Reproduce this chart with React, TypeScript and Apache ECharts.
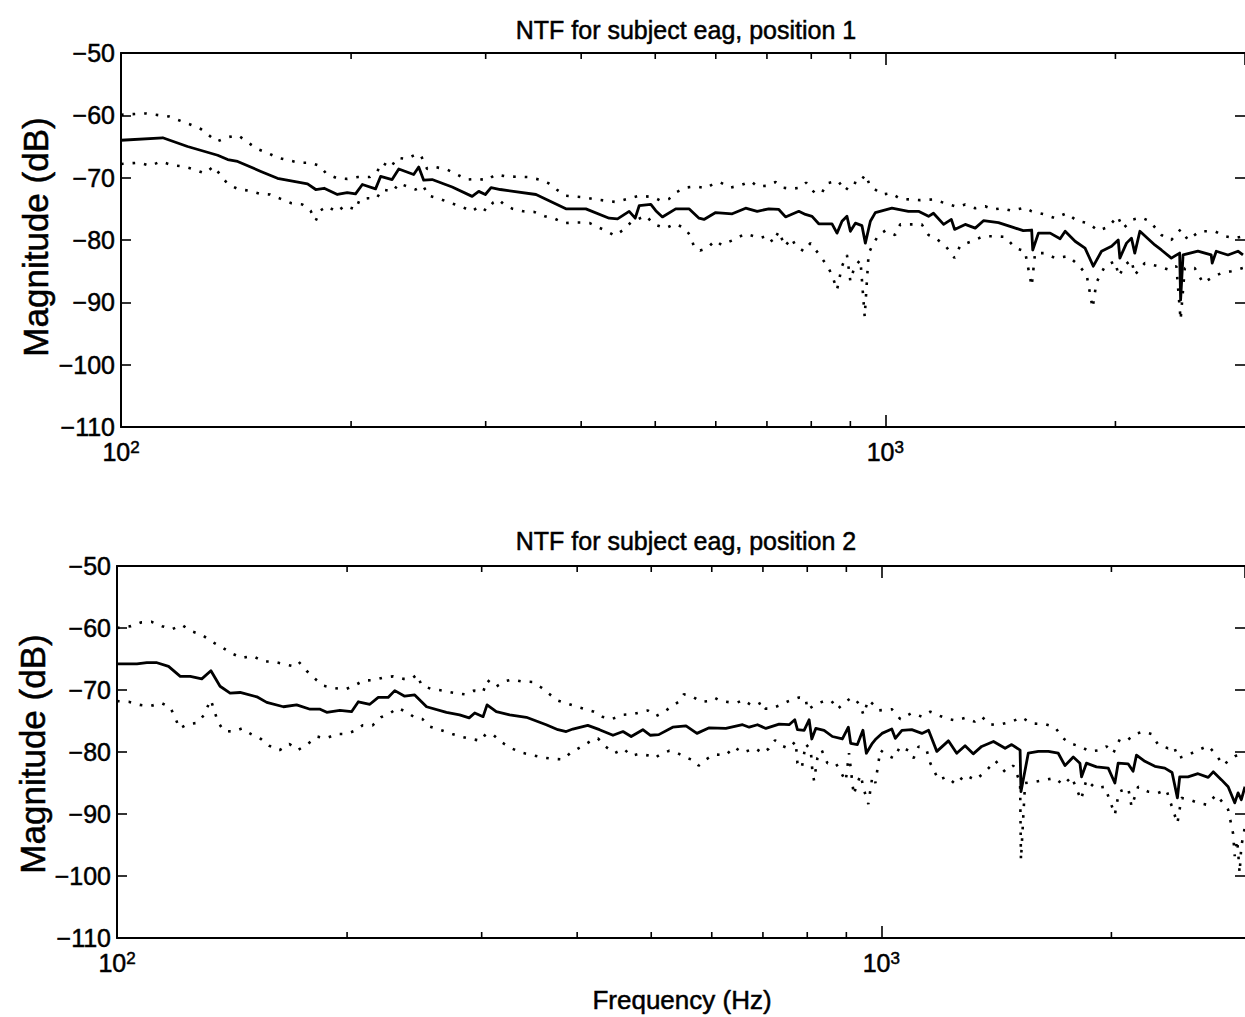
import React, { useEffect, useRef } from "react";
import * as echarts from "echarts";

const FONT = '"Liberation Sans", Arial, Helvetica, sans-serif';

// Titles & labels
const titles = ["NTF for subject eag, position 1", "NTF for subject eag, position 2"];
const yLabel = "Magnitude (dB)";
const xLabel = "Frequency (Hz)";

// Axis ranges
const xMin = 100;
const xMax1 = 2955;
const xMax2 = 2991;
const yMin = -110;
const yMax = -50;
const yStep = 10;
const minorTicks = [200, 300, 400, 500, 600, 700, 800, 900, 2000];

// Position 1: [frequency Hz, magnitude dB]
const p1Mean = [[100,-64.0],[113.4,-63.6],[122.2,-65.0],[133.8,-66.4],[137.9,-67.1],[142.1,-67.4],[152.4,-69.0],[160.2,-70.1],[175.4,-71.0],[179.8,-71.9],[184.4,-71.7],[191.9,-72.7],[197.7,-72.4],[202.7,-72.6],[206.9,-71.1],[215.3,-71.8],[218.6,-69.8],[226.3,-70.3],[230.9,-68.6],[241.5,-69.5],[245.2,-68.3],[248.9,-70.4],[255.3,-70.3],[271.2,-71.5],[288.0,-73.0],[293.8,-72.2],[299.7,-72.7],[304.9,-71.6],[313.5,-71.9],[349.1,-72.7],[382.0,-75.0],[405.7,-75.0],[435.2,-76.5],[446.3,-76.6],[462.2,-75.4],[470.7,-76.5],[476.4,-74.5],[493.4,-74.3],[500.8,-75.3],[510.9,-76.3],[531.8,-75.0],[553.5,-75.0],[570.5,-76.5],[579.1,-76.7],[599.8,-75.6],[630.5,-75.8],[656.5,-74.9],[679.7,-75.4],[704.0,-75.0],[725.5,-75.1],[740.3,-76.3],[770.5,-75.4],[786.1,-75.9],[801.9,-76.2],[818.2,-77.4],[851.6,-77.4],[864.5,-78.9],[877.6,-77.0],[890.8,-76.2],[900.0,-78.6],[913.7,-77.3],[932.0,-77.7],[941.6,-80.5],[955.9,-77.0],[970.3,-75.6],[1020,-74.9],[1072,-75.4],[1105,-75.4],[1139,-76.2],[1156,-75.7],[1192,-77.5],[1220,-76.7],[1232,-78.3],[1272,-77.5],[1311,-78.1],[1344,-76.9],[1406,-77.2],[1463,-77.9],[1515,-78.5],[1554,-78.4],[1559,-81.6],[1586,-78.9],[1643,-78.9],[1693,-79.8],[1719,-78.6],[1771,-80.2],[1825,-81.3],[1871,-84.2],[1918,-81.8],[1977,-81.0],[2017,-80.0],[2027,-82.9],[2068,-80.5],[2099,-79.7],[2120,-82.1],[2153,-78.6],[2252,-80.8],[2297,-81.6],[2367,-82.9],[2427,-82.1],[2434,-89.6],[2452,-82.4],[2564,-81.8],[2669,-82.4],[2677,-83.7],[2710,-81.8],[2807,-82.4],[2893,-81.8],[2937,-82.4]];

const p1Upper = [[100,-59.9],[107.8,-59.7],[115.6,-60.2],[123.4,-61.5],[127.2,-62.2],[133.5,-64.2],[137.9,-63.5],[142.3,-63.2],[146.4,-64.3],[150.8,-65.4],[155.4,-66.0],[160.2,-66.8],[171.0,-67.6],[177.0,-67.6],[181.9,-68.1],[185.8,-69.4],[191.9,-70.1],[197.7,-70.2],[204.2,-69.9],[211.7,-69.9],[216.4,-69.0],[219.7,-67.6],[225.3,-68.4],[229.8,-66.8],[236.1,-67.0],[242.8,-66.3],[246.5,-66.3],[251.5,-68.6],[257.8,-68.3],[267.1,-68.7],[275.3,-69.5],[283.7,-70.3],[292.4,-70.2],[301.3,-70.4],[308.9,-69.5],[319.0,-69.8],[340.4,-69.9],[352.6,-70.3],[362.6,-70.9],[371.4,-71.9],[382.0,-72.9],[406.4,-73.2],[418.1,-73.5],[444.0,-73.9],[459.8,-73.4],[476.4,-72.9],[496.8,-73.1],[508.4,-73.7],[521.2,-73.4],[533.4,-72.3],[548.1,-71.6],[564.8,-71.4],[583.2,-71.7],[596.9,-70.9],[609.0,-70.8],[626.3,-71.6],[643.4,-71.3],[667.7,-70.6],[679.7,-71.4],[700.5,-71.3],[718.5,-70.7],[734.4,-71.6],[753.9,-71.8],[774.5,-71.6],[787.7,-70.8],[801.9,-72.0],[811.6,-72.6],[826.4,-72.4],[838.9,-70.9],[867.1,-70.5],[877.6,-71.4],[886.5,-72.1],[904.4,-70.7],[922.7,-71.0],[941.6,-69.5],[955.9,-71.4],[975.0,-72.1],[990,-72.7],[1018,-72.5],[1046,-73.4],[1110,-73.6],[1156,-73.5],[1204,-74.2],[1241,-74.7],[1272,-74.3],[1311,-74.9],[1351,-74.6],[1385,-75.1],[1420,-74.9],[1463,-75.3],[1523,-74.8],[1554,-75.4],[1618,-75.9],[1667,-76.5],[1727,-75.7],[1780,-76.9],[1843,-77.3],[1899,-78.5],[1957,-77.9],[2013,-76.2],[2047,-78.1],[2110,-76.7],[2164,-76.4],[2218,-77.0],[2297,-79.2],[2367,-80.0],[2434,-78.3],[2489,-80.0],[2577,-78.6],[2698,-78.6],[2780,-79.4],[2865,-79.7],[2937,-79.4]];

const p1Lower = [[100,-67.8],[105.7,-67.6],[109.1,-68.1],[112.8,-67.4],[116.6,-68.0],[120.7,-68.2],[124.7,-68.7],[128.7,-69.3],[132.2,-68.2],[134.8,-69.5],[137.9,-71.0],[142.1,-71.8],[147.1,-72.1],[152.0,-72.6],[156.7,-72.7],[161.8,-73.4],[167.1,-74.1],[172.7,-74.3],[177.0,-75.3],[179.8,-76.9],[182.1,-75.3],[186.2,-74.6],[191.5,-75.5],[196.3,-74.5],[202.7,-75.1],[205.3,-73.5],[210.4,-73.3],[216.0,-73.3],[219.7,-71.9],[227.0,-72.2],[230.9,-70.9],[237.9,-71.5],[242.8,-71.9],[248.5,-71.3],[252.7,-72.9],[261.2,-73.4],[270.4,-74.1],[278.6,-74.6],[287.4,-75.4],[294.6,-74.6],[300.6,-75.3],[306.7,-74.0],[312.0,-73.5],[316.4,-74.2],[325.4,-75.0],[336.0,-75.4],[347.3,-75.5],[358.6,-76.2],[369.6,-76.6],[380.1,-77.3],[389.7,-77.2],[400.9,-77.2],[410.6,-77.3],[420.1,-77.9],[430.9,-78.5],[442.7,-79.3],[453.9,-78.4],[464.5,-77.2],[473.9,-76.7],[485.9,-76.1],[498.2,-77.5],[516.1,-78.1],[530.7,-77.4],[546.5,-78.1],[556.4,-79.4],[562.0,-81.1],[572.3,-81.7],[584.8,-81.3],[598.6,-80.1],[610.7,-80.8],[629.3,-80.1],[643.4,-79.5],[656.5,-79.0],[673.0,-79.4],[685.2,-79.7],[702.6,-79.3],[712.6,-80.4],[725.5,-78.6],[738.8,-81.0],[753.9,-79.7],[763.0,-80.9],[782.3,-81.8],[798.0,-80.5],[816.6,-82.1],[838.9,-84.1],[851.6,-85.6],[864.5,-88.0],[877.6,-84.2],[890.8,-82.4],[900.0,-86.6],[911.8,-84.2],[927.7,-83.2],[939.7,-92.3],[951.0,-82.1],[965.4,-80.5],[979.9,-79.2],[1000,-78.5],[1030,-79.2],[1046,-77.5],[1083,-77.5],[1116,-77.5],[1139,-79.2],[1163,-79.7],[1198,-80.9],[1232,-82.9],[1253,-80.9],[1298,-80.2],[1344,-79.4],[1392,-79.4],[1435,-79.5],[1479,-81.3],[1523,-81.8],[1554,-87.4],[1570,-82.1],[1618,-82.1],[1667,-82.9],[1736,-82.6],[1789,-84.0],[1834,-85.6],[1867,-90.9],[1889,-86.8],[1938,-84.2],[1997,-83.4],[2021,-85.8],[2058,-84.0],[2099,-83.2],[2120,-85.6],[2185,-83.7],[2275,-84.2],[2355,-84.8],[2403,-84.2],[2434,-92.8],[2465,-84.5],[2540,-84.5],[2604,-86.9],[2669,-86.1],[2752,-85.3],[2836,-85.0],[2937,-84.5]];

// Position 2
const p2Mean = [[100,-65.8],[106.2,-65.8],[109.4,-65.6],[112.8,-65.6],[116.8,-66.2],[121.0,-67.8],[124.7,-67.8],[129.1,-68.2],[132.7,-66.9],[136.4,-69.4],[140.6,-70.5],[144.9,-70.4],[152.4,-71.1],[157.0,-72.0],[165.1,-72.7],[171.8,-72.4],[178.9,-73.1],[184.4,-73.1],[188.1,-73.6],[195.7,-73.3],[202.7,-73.5],[206.9,-71.9],[214.2,-72.3],[219.7,-71.2],[226.3,-71.2],[230.9,-70.1],[237.9,-71.0],[245.2,-70.8],[254.1,-72.7],[269.8,-73.6],[280.7,-74.0],[288.9,-74.5],[293.8,-73.7],[301.3,-74.3],[304.9,-72.4],[313.5,-73.5],[326.4,-74.0],[343.2,-74.4],[364.4,-75.6],[377.5,-76.4],[387.0,-76.7],[394.8,-76.3],[413.0,-75.7],[427.8,-76.4],[445.6,-77.3],[459.2,-76.7],[470.7,-77.5],[487.5,-76.4],[498.8,-77.3],[511.5,-77.2],[533.4,-76.0],[555.2,-75.8],[573.8,-77.0],[595.5,-76.1],[626.0,-76.2],[658.3,-75.6],[671.6,-76.0],[688.6,-75.6],[706.3,-76.2],[735.0,-75.5],[757.5,-75.6],[770.5,-74.8],[776.7,-76.4],[792.5,-76.5],[804.5,-74.8],[811.0,-77.9],[820.8,-76.2],[841.6,-76.5],[863.0,-77.5],[889.3,-77.9],[905.5,-76.0],[911.8,-78.6],[930.4,-78.8],[946.1,-76.5],[955.9,-80.2],[973.2,-78.6],[982.2,-78.0],[1002,-77.0],[1032,-76.3],[1043,-77.8],[1064,-76.5],[1096,-76.4],[1130,-77.0],[1153,-76.5],[1182,-79.9],[1224,-78.2],[1255,-80.2],[1287,-79.0],[1319,-80.3],[1353,-79.1],[1402,-78.3],[1452,-79.4],[1481,-78.8],[1519,-79.7],[1523,-86.4],[1557,-80.2],[1605,-79.9],[1654,-79.9],[1704,-80.2],[1739,-82.2],[1783,-80.8],[1819,-81.8],[1828,-84.0],[1855,-81.8],[1912,-82.4],[1981,-82.6],[2021,-85.0],[2041,-81.8],[2103,-81.9],[2135,-83.1],[2157,-80.5],[2212,-81.5],[2280,-82.3],[2349,-82.6],[2401,-83.3],[2440,-87.4],[2457,-84.0],[2519,-84.0],[2596,-83.5],[2677,-84.1],[2718,-83.2],[2787,-84.5],[2843,-85.6],[2900,-88.2],[2929,-86.6],[2958,-87.7],[2991,-85.6]];

const p2Upper = [[100,-60.0],[104.3,-59.7],[107.5,-59.1],[110.9,-59.0],[114.5,-59.7],[118.0,-60.2],[121.6,-59.5],[125.0,-60.5],[129.1,-61.1],[133.1,-62.2],[137.1,-63.1],[141.3,-64.1],[145.7,-64.8],[150.6,-64.5],[155.4,-65.4],[159.9,-65.4],[165.1,-65.8],[169.3,-66.1],[172.7,-65.4],[177.0,-66.9],[181.6,-68.2],[186.2,-69.3],[192.2,-69.7],[199.0,-69.9],[204.4,-69.3],[210.0,-68.5],[216.8,-68.4],[223.0,-68.0],[229.8,-67.8],[236.8,-68.2],[242.8,-68.2],[247.0,-67.5],[250.2,-69.2],[257.3,-69.8],[266.6,-70.1],[276.6,-70.5],[285.0,-70.7],[292.9,-70.1],[301.3,-70.3],[305.2,-68.4],[312.9,-69.5],[321.5,-68.6],[329.0,-68.3],[338.1,-68.6],[349.4,-68.7],[359.0,-69.6],[367.4,-70.6],[377.5,-71.7],[388.2,-72.2],[399.7,-72.7],[410.2,-73.1],[420.8,-73.5],[431.4,-74.3],[443.6,-74.7],[459.2,-74.0],[472.1,-73.9],[484.1,-73.6],[495.0,-73.3],[507.5,-74.2],[520.4,-73.5],[530.7,-72.7],[543.2,-71.9],[551.5,-70.7],[564.9,-71.0],[580.8,-71.9],[595.5,-71.8],[606.3,-71.3],[616.8,-71.8],[635.6,-72.0],[648.5,-72.0],[659.6,-71.6],[675.0,-72.4],[685.2,-72.5],[699.2,-71.9],[704.7,-73.0],[716.9,-73.0],[735.0,-72.5],[755.9,-71.8],[780.5,-71.2],[796.3,-71.4],[800.4,-73.2],[816.6,-72.5],[833.1,-72.0],[845.8,-71.7],[861.1,-71.8],[875.8,-73.1],[898.0,-71.9],[914.6,-71.2],[925.6,-71.6],[939.7,-72.6],[947.3,-74.0],[961.6,-71.6],[977.9,-72.4],[992,-73.3],[1032,-73.1],[1059,-74.7],[1096,-73.7],[1130,-74.3],[1159,-73.5],[1194,-74.2],[1224,-74.7],[1249,-74.9],[1287,-74.5],[1324,-75.1],[1353,-74.3],[1388,-75.6],[1437,-75.5],[1481,-75.1],[1526,-74.4],[1573,-75.4],[1637,-75.5],[1687,-76.0],[1730,-77.8],[1765,-78.6],[1819,-79.1],[1874,-79.9],[1932,-79.7],[1971,-79.1],[2011,-80.2],[2052,-77.9],[2104,-78.0],[2147,-77.1],[2201,-76.7],[2257,-77.1],[2302,-78.8],[2372,-79.4],[2415,-79.1],[2445,-81.0],[2519,-80.5],[2596,-79.7],[2677,-79.0],[2744,-80.5],[2799,-82.1],[2856,-81.3],[2900,-80.7],[2991,-79.9]];

const p2Lower = [[100,-71.8],[103.6,-71.9],[107.1,-72.4],[110.5,-72.6],[114.3,-72.1],[117.4,-72.8],[119.2,-74.5],[120.7,-76.2],[123.7,-75.5],[127.5,-75.3],[130.0,-74.0],[131.7,-72.4],[132.7,-71.6],[134.1,-73.4],[135.5,-75.1],[137.9,-76.6],[142.1,-76.7],[145.7,-76.2],[149.7,-77.1],[154.3,-77.9],[158.2,-79.0],[163.2,-79.7],[168.1,-78.7],[172.4,-79.7],[177.7,-78.7],[182.6,-77.5],[187.7,-77.8],[193.8,-77.1],[199.4,-77.1],[204.4,-76.6],[209.6,-75.7],[216.0,-75.7],[221.5,-74.4],[228.0,-73.7],[232.8,-72.9],[239.9,-73.6],[244.8,-74.4],[251.0,-74.7],[256.6,-75.9],[265.7,-76.5],[274.6,-77.1],[283.7,-77.6],[290.9,-77.9],[299.2,-78.2],[303.7,-77.1],[310.5,-77.2],[318.3,-78.4],[328.1,-79.4],[338.1,-80.1],[349.4,-80.5],[360.8,-80.9],[372.5,-81.1],[383.1,-81.2],[391.7,-80.2],[401.6,-79.4],[410.9,-78.7],[419.5,-78.0],[425.8,-77.8],[435.5,-79.1],[447.5,-80.2],[460.3,-79.5],[470.7,-80.6],[482.6,-80.3],[497.4,-80.6],[504.9,-81.0],[515.1,-80.3],[528.1,-79.8],[541.6,-80.2],[558.1,-81.0],[569.4,-81.4],[576.8,-82.2],[589.6,-81.2],[604.6,-80.4],[626.0,-80.5],[641.9,-79.2],[658.3,-80.1],[683.8,-79.4],[699.2,-80.2],[711.9,-79.5],[726.1,-78.1],[741.0,-79.0],[755.9,-79.4],[772.6,-78.3],[776.7,-81.8],[786.8,-82.6],[796.3,-78.7],[808.5,-79.7],[812.6,-83.2],[816.6,-84.6],[824.8,-81.0],[835.5,-79.7],[850.2,-81.8],[871.6,-81.8],[884.8,-83.2],[898.3,-84.7],[907.3,-80.2],[920.2,-86.9],[930.4,-85.0],[939.7,-83.7],[949.0,-86.1],[961.6,-88.4],[973.2,-84.0],[982.2,-85.0],[997,-79.7],[1017,-80.5],[1038,-81.0],[1059,-79.1],[1086,-79.8],[1102,-81.0],[1119,-79.1],[1147,-79.8],[1159,-81.8],[1188,-84.5],[1218,-84.0],[1251,-85.2],[1287,-83.7],[1327,-84.5],[1368,-83.2],[1410,-81.4],[1452,-83.2],[1489,-82.2],[1519,-84.9],[1523,-97.4],[1542,-85.0],[1589,-84.8],[1637,-84.5],[1687,-84.2],[1730,-85.3],[1774,-84.0],[1825,-87.7],[1855,-84.5],[1904,-85.8],[1961,-85.6],[2021,-90.1],[2046,-86.4],[2104,-85.8],[2125,-88.8],[2168,-85.6],[2234,-86.4],[2302,-86.6],[2360,-86.1],[2440,-91.5],[2470,-87.4],[2532,-87.7],[2596,-88.2],[2663,-88.5],[2744,-86.9],[2799,-88.2],[2843,-89.3],[2885,-93.1],[2900,-96.8],[2922,-94.2],[2943,-99.5],[2958,-95.2],[2991,-92.0]];

const BLACK = "#000";
const TICK_FONT = 25;
const STROKE = 0.5;

function supLabel(v: number) {
  const e = Math.log10(v);
  const r = Math.round(e);
  if (Math.abs(e - r) > 1e-6) return "";
  return "{b|10}{s|" + r + "}";
}

function yFmt(v: number) {
  return v < 0 ? "\u2212" + Math.abs(v) : String(v);
}

function makeX(gridIndex: number, max: number, position: "top" | "bottom") {
  return {
    type: "log",
    logBase: 10,
    gridIndex,
    min: xMin,
    max,
    position,
    axisLine: { show: true, onZero: false, lineStyle: { color: BLACK, width: 2 } },
    axisTick: { show: true, inside: true, length: 12, lineStyle: { color: BLACK, width: 1.6 } },
    splitLine: { show: false },
    minorTick: { show: false },
    axisLabel: {
      show: position === "bottom",
      margin: 12,
      formatter: supLabel,
      showMaxLabel: false,
      rich: {
        b: { fontFamily: FONT, fontSize: TICK_FONT, color: BLACK, textBorderColor: BLACK, textBorderWidth: STROKE },
        s: { fontFamily: FONT, fontSize: 17, color: BLACK, verticalAlign: "top", padding: [0, 0, 8, 0], textBorderColor: BLACK, textBorderWidth: STROKE },
      },
    },
  };
}

function makeY(gridIndex: number, position: "left" | "right") {
  return {
    type: "value",
    gridIndex,
    min: yMin,
    max: yMax,
    interval: yStep,
    position,
    axisLine: { show: position === "left", onZero: false, lineStyle: { color: BLACK, width: 2 } },
    axisTick: { show: true, inside: true, length: 10, lineStyle: { color: BLACK, width: 1.6 } },
    splitLine: { show: false },
    axisLabel: {
      show: position === "left",
      margin: 6,
      formatter: yFmt,
      fontFamily: FONT,
      fontSize: TICK_FONT,
      color: BLACK,
      textBorderColor: BLACK,
      textBorderWidth: STROKE,
    },
  };
}

function lineSeries(data: number[][], idx: number, dotted: boolean) {
  return {
    type: "line",
    data,
    xAxisIndex: idx * 2,
    yAxisIndex: idx * 2,
    showSymbol: false,
    symbol: "none",
    silent: true,
    z: dotted ? 2 : 3,
    lineStyle: dotted
      ? { color: BLACK, width: 2.6, type: [2.6, 9], cap: "butt" }
      : { color: BLACK, width: 2.8, type: "solid", join: "round" },
  };
}

export default function App() {
  const ref = useRef<HTMLDivElement>(null);
  useEffect(() => {
    if (!ref.current) return;
    const chart = echarts.init(ref.current, null, { renderer: "svg" });
    chart.setOption({
      animation: false,
      backgroundColor: "#fff",
      grid: [
        { left: 121, top: 53, width: 1126, height: 374, show: false },
        { left: 117, top: 566, width: 1130, height: 372, show: false },
      ],
      xAxis: [
        makeX(0, xMax1, "bottom"),
        makeX(0, xMax1, "top"),
        makeX(1, xMax2, "bottom"),
        makeX(1, xMax2, "top"),
      ],
      yAxis: [makeY(0, "left"), makeY(0, "right"), makeY(1, "left"), makeY(1, "right")],
      series: [
        lineSeries(p1Upper, 0, true),
        lineSeries(p1Lower, 0, true),
        lineSeries(p1Mean, 0, false),
        lineSeries(p2Upper, 1, true),
        lineSeries(p2Lower, 1, true),
        lineSeries(p2Mean, 1, false),
      ],
    });

    const g: any[] = [];
    [0, 1].forEach((gi) => {
      const yTop = chart.convertToPixel({ yAxisIndex: gi * 2 }, yMax) as number;
      const yBot = chart.convertToPixel({ yAxisIndex: gi * 2 }, yMin) as number;
      minorTicks.forEach((f) => {
        const x = chart.convertToPixel({ xAxisIndex: gi * 2 }, f) as number;
        g.push({ type: "line", silent: true, shape: { x1: x, y1: yBot, x2: x, y2: yBot - 6 }, style: { stroke: BLACK, lineWidth: 1.6 } });
        g.push({ type: "line", silent: true, shape: { x1: x, y1: yTop, x2: x, y2: yTop + 6 }, style: { stroke: BLACK, lineWidth: 1.6 } });
      });
    });
    const txt = (text: string, x: number, y: number, size: number, rot = 0) => ({
      type: "text",
      x,
      y,
      rotation: rot,
      silent: true,
      style: {
        text,
        fontFamily: FONT,
        fontSize: size,
        fill: BLACK,
        stroke: BLACK,
        lineWidth: STROKE,
        align: "center",
        verticalAlign: "middle",
      },
    });
    g.push(txt(titles[0], 686, 30, 25));
    g.push(txt(titles[1], 686, 541, 25));
    g.push(txt(xLabel, 682, 1000, 26));
    g.push(txt(yLabel, 35, 237, 35, Math.PI / 2));
    g.push(txt(yLabel, 32, 754, 35, Math.PI / 2));
    chart.setOption({ graphic: g });

    return () => chart.dispose();
  }, []);
  return (
    <div
      ref={ref}
      style={{ position: "absolute", left: 0, top: 0, width: 1245, height: 1017, background: "#fff" }}
    />
  );
}
